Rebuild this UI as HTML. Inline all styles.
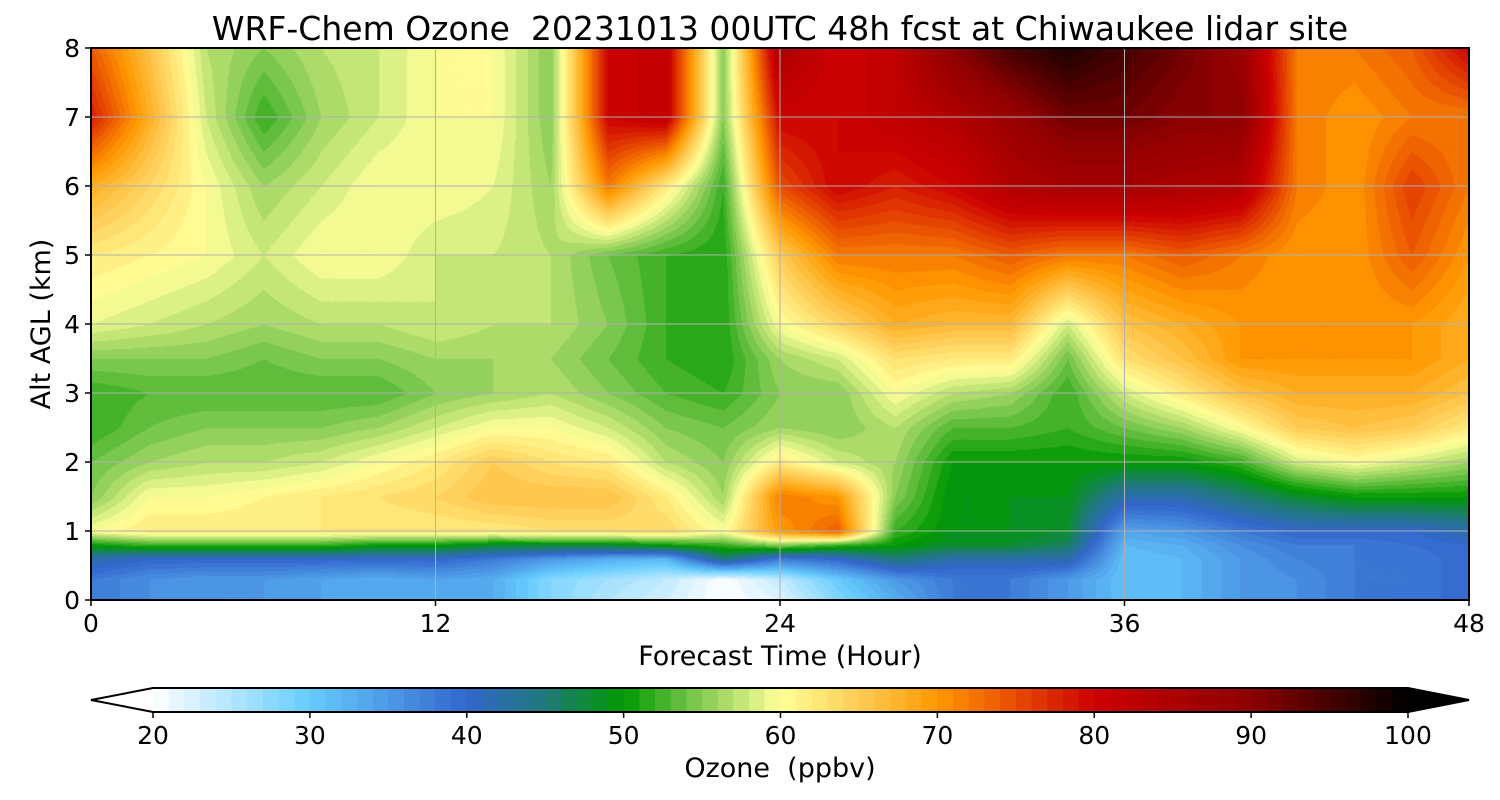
<!DOCTYPE html>
<html><head><meta charset="utf-8"><style>
body{margin:0;background:#fff;width:1500px;height:800px;overflow:hidden;position:relative;font-family:"DejaVu Sans","Liberation Sans",sans-serif}
#plot{position:absolute;left:91px;top:48px}
#ov{position:absolute;left:0;top:0}
text{white-space:pre}
</style></head><body>
<canvas id="plot" width="1378" height="552"></canvas>
<svg id="ov" width="1500" height="800" font-family="DejaVu Sans, Liberation Sans, sans-serif"></svg>
<script>
const times=[0,2,4,6,8,10,12,14,16,18,20,22,24,26,28,30,32,34,36,38,40,42,44,46,48];
const heights=[0,0.3,0.6,0.8,1.0,1.5,2,2.5,3,3.5,4,5,6,7,8];
const ozone=[
[38,38,42,50,60,55,54,52,52,55,59,62,68,78,74],
[36,36,40,52,62,60,56,54,53,55,58,61,64,68,66],
[35,35,40,52,62,60,57,55,53,55,57,60,60,58,57],
[35,35,40,52,62,61,57,55,53,54,56,58,56,52,55],
[34,34,40,52,62,62,58,55,53,55,57,60,58,56,57],
[33,33,40,50,62,63,60,56,53,55,57,60,60,58,58],
[34,34,40,50,62,64,62,58,55,56,58,58,60,60,60],
[33,33,38,48,62,66,65,60,56,56,57,58,59,60,60],
[28,28,35,48,63,66,63,60,57,56,57,57,56,55,55],
[25,26,33,48,63,66,62,58,55,54,55,54,72,80,80],
[23,24,32,50,64,62,57,55,53,52,52,52,62,82,82],
[20,20,45,52,60,56,55,54,52,51,51,51,52,55,55],
[22,24,38,55,70,72,62,56,55,56,60,65,75,80,85],
[28,30,40,52,74,70,58,55,55,58,64,72,80,80,80],
[33,35,45,50,52,55,56,57,60,63,68,72,78,82,82],
[38,38,42,48,49,49,50,53,57,62,67,72,80,84,90],
[38,38,42,48,49,49,50,53,56,62,67,74,84,88,95],
[35,35,42,46,48,49,50,52,52,54,58,72,86,92,98],
[31,31,31,32,34,42,50,54,58,63,66,72,86,92,95],
[32,32,32,33,35,42,50,56,62,66,68,74,85,90,92],
[35,35,35,36,38,45,52,60,66,70,70,72,84,90,88],
[36,36,37,38,40,48,58,65,68,70,70,70,72,72,72],
[38,38,38,38,40,50,60,66,68,70,70,70,70,70,72],
[38,38,38,39,40,50,58,65,68,70,70,74,76,72,74],
[40,40,40,40,42,50,56,62,66,68,68,70,72,72,80]];
const xTicks=[0,12,24,36,48];
const yTicks=[0,1,2,3,4,5,6,7,8];
const cbTicks=[20,30,40,50,60,70,80,90,100];
const stops=[[20,'#ffffff'],[30,'#66ccff'],[40,'#3366cc'],[45,'#1f7a7a'],[50,'#009900'],[55,'#88cc55'],[60,'#ffff99'],[65,'#ffcc55'],[70,'#ff9900'],[75,'#e84c00'],[80,'#cc0000'],[90,'#8c0000'],[100,'#000000']];
function hex(c){return [parseInt(c.substr(1,2),16),parseInt(c.substr(3,2),16),parseInt(c.substr(5,2),16)];}
function cmap(v){v=Math.max(20,Math.min(100,v));
 for(let i=0;i<stops.length-1;i++){if(v<=stops[i+1][0]){const a=hex(stops[i][1]),b=hex(stops[i+1][1]);const f=(v-stops[i][0])/(stops[i+1][0]-stops[i][0]);return a.map((x,k)=>Math.round(x+(b[k]-x)*f));}}
 return [0,0,0];}
const PX=91,PY=48,PW=1378,PH=552;
const xs=t=>PX+t/48*PW, ys=h=>PY+PH-h/8*PH;
function interp(arr,v){let i=0;while(i<arr.length-2&&v>arr[i+1])i++;return [i,(v-arr[i])/(arr[i+1]-arr[i])];}
const cv=document.getElementById('plot'),ctx=cv.getContext('2d');
const img=ctx.createImageData(PW,PH);
for(let px=0;px<PW;px++){const t=px/PW*48;const [ti,tf]=interp(times,t);
 for(let py=0;py<PH;py++){const h=(PH-py)/PH*8;const [hi,hf]=interp(heights,h);
  const v=ozone[ti][hi]*(1-tf)*(1-hf)+ozone[ti+1][hi]*tf*(1-hf)+ozone[ti][hi+1]*(1-tf)*hf+ozone[ti+1][hi+1]*tf*hf;
  const c=cmap(Math.floor(v)+0.5);const o=(py*PW+px)*4;img.data[o]=c[0];img.data[o+1]=c[1];img.data[o+2]=c[2];img.data[o+3]=255;}}
ctx.putImageData(img,0,0);
const svg=document.getElementById('ov');const NS='http://www.w3.org/2000/svg';
function el(tag,at,txt){const e=document.createElementNS(NS,tag);for(const k in at)e.setAttribute(k,at[k]);if(txt!==undefined)e.textContent=txt;svg.appendChild(e);return e;}
xTicks.forEach(t=>{const x=xs(t);
 const g=el('line',{x1:x,x2:x,y1:PY,y2:PY+PH,stroke:'#b0b0b0','stroke-width':1});
 
 el('line',{x1:x,x2:x,y1:PY+PH,y2:PY+PH+6,stroke:'#000','stroke-width':1.5});
 const l=el('text',{x:x,y:632,'font-size':25,'text-anchor':'middle'},String(t));
 });
yTicks.forEach(h=>{const y=ys(h);
 const g=el('line',{x1:PX,x2:PX+PW,y1:y,y2:y,stroke:'#b0b0b0','stroke-width':1});
 
 el('line',{x1:PX-6,x2:PX,y1:y,y2:y,stroke:'#000','stroke-width':1.5});
 const l=el('text',{x:80,y:y+9,'font-size':25,'text-anchor':'end'},String(h));
 });
const fr=el('rect',{x:PX,y:PY,width:PW,height:PH,fill:'none',stroke:'#000','stroke-width':2});

const ti=el('text',{x:780,y:40,'font-size':33,'text-anchor':'middle'},'WRF-Chem Ozone  20231013 00UTC 48h fcst at Chiwaukee lidar site');

const xl=el('text',{x:780,y:665,'font-size':27,'text-anchor':'middle'},'Forecast Time (Hour)');

const yl=el('text',{x:0,y:0,'font-size':27,'text-anchor':'middle',transform:'translate(50,324) rotate(-90)'},'Alt AGL (km)');

const C0=153,C1=1408,CT=688,CB=712;const cx=v=>C0+(v-20)/80*(C1-C0);
for(let v=20;v<100;v++){const c=cmap(v+0.5);
 const r=el('rect',{x:cx(v),y:CT,width:cx(v+1)-cx(v)+0.6,height:CB-CT,fill:'rgb('+c.join(',')+')'});
 }
const lt=el('polygon',{points:`${C0},${CT} 91,700 ${C0},${CB}`,fill:'#fff',stroke:'none'});

const rt=el('polygon',{points:`${C1},${CT} 1469,700 ${C1},${CB}`,fill:'#000'});

const ob=el('polygon',{points:`${C0},${CT} ${C1},${CT} 1469,700 ${C1},${CB} ${C0},${CB} 91,700`,fill:'none',stroke:'#000','stroke-width':2});

cbTicks.forEach(v=>{const x=cx(v);el('line',{x1:x,x2:x,y1:CB,y2:CB+6,stroke:'#000','stroke-width':1.5});
 const l=el('text',{x:x,y:744,'font-size':25,'text-anchor':'middle'},String(v));
 });
const cl=el('text',{x:780,y:777,'font-size':27,'text-anchor':'middle'},'Ozone  (ppbv)');

</script>
</body></html>
